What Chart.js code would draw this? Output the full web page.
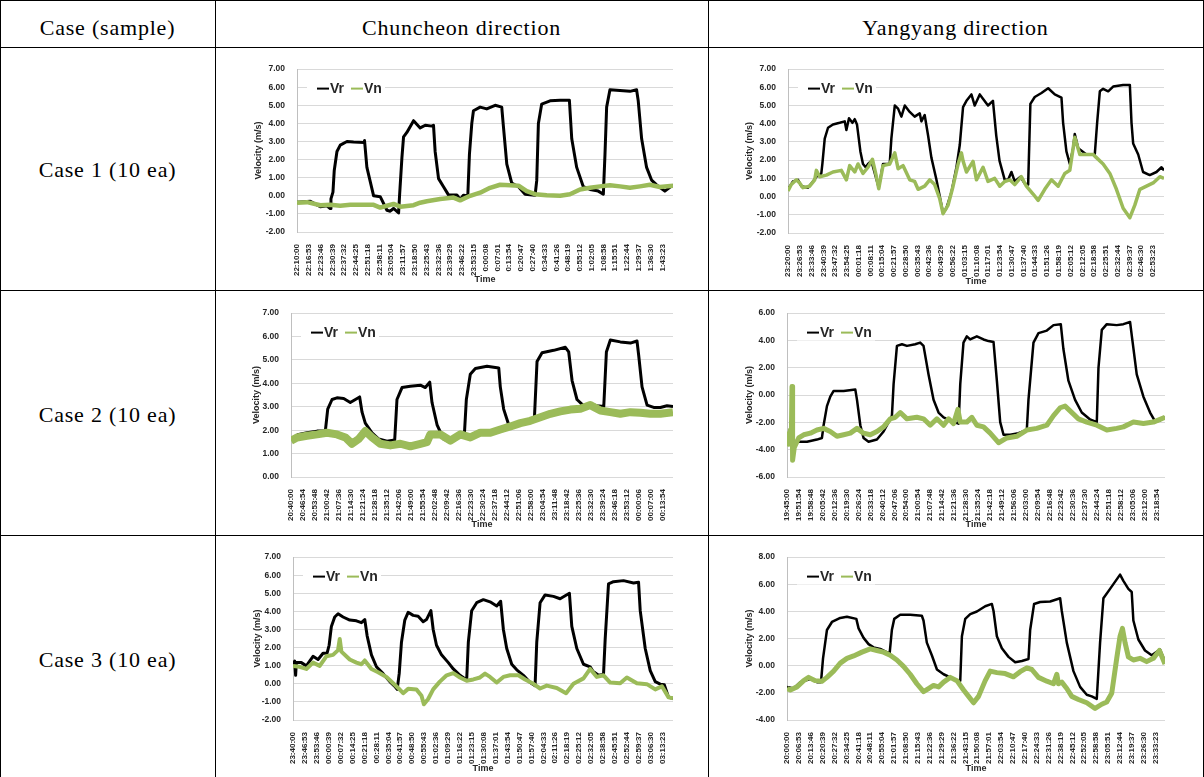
<!DOCTYPE html>
<html>
<head>
<meta charset="utf-8">
<script src="https://cdn.jsdelivr.net/npm/chart.js@4.4.0/dist/chart.umd.min.js"></script>
<style>
  body { margin: 0; background: #fff; overflow: hidden; }
  #page { position: relative; width: 1204px; height: 777px; font-family: "Liberation Serif", "Times New Roman", serif; }
  .hl { position: absolute; left: 0; width: 1204px; height: 1px; background: #000; }
  .vl { position: absolute; top: 0; height: 777px; width: 1px; background: #000; }
  .txt { position: absolute; text-align: center; font-size: 22px; line-height: 22px; letter-spacing: 0.8px; color: #000; white-space: nowrap; }
  canvas { position: absolute; }
</style>
</head>
<body>
<div id="page">
  <div class="hl" style="top:0"></div>
  <div class="hl" style="top:47px"></div>
  <div class="hl" style="top:290px"></div>
  <div class="hl" style="top:535px"></div>
  <div class="vl" style="left:0"></div>
  <div class="vl" style="left:215px"></div>
  <div class="vl" style="left:708px"></div>
  <div class="vl" style="left:1203px"></div>

  <div class="txt" style="left:0;width:215px;top:17px">Case (sample)</div>
  <div class="txt" style="left:215px;width:493px;top:17px">Chuncheon direction</div>
  <div class="txt" style="left:708px;width:495px;top:17px">Yangyang direction</div>
  <div class="txt" style="left:0;width:215px;top:159px">Case 1 (10 ea)</div>
  <div class="txt" style="left:0;width:215px;top:404px">Case 2 (10 ea)</div>
  <div class="txt" style="left:0;width:215px;top:649px">Case 3 (10 ea)</div>

  <canvas id="c1"></canvas>
  <canvas id="c2"></canvas>
  <canvas id="c3"></canvas>
  <canvas id="c4"></canvas>
  <canvas id="c5"></canvas>
  <canvas id="c6"></canvas>
</div>
<script>
// tick labels (one per x step)
const c1Labels = ['22:10:00','22:16:53','22:23:46','22:30:39','22:37:32','22:44:25','22:51:18','22:58:11','23:05:04','23:11:57','23:18:50','23:25:43','23:32:36','23:39:29','23:46:22','23:53:15','0:00:08','0:07:01','0:13:54','0:20:47','0:27:40','0:34:33','0:41:26','0:48:19','0:55:12','1:02:05','1:08:58','1:15:51','1:22:44','1:29:37','1:36:30','1:43:23'];
const c2Labels = ['23:20:00','23:26:53','23:33:46','23:40:39','23:47:32','23:54:25','00:01:18','00:08:11','00:15:04','00:21:57','00:28:50','00:35:43','00:42:36','00:49:29','00:56:22','01:03:15','01:10:08','01:17:01','01:23:54','01:30:47','01:37:40','01:44:33','01:51:26','01:58:19','02:05:12','02:12:05','02:18:58','02:25:51','02:32:44','02:39:37','02:46:30','02:53:23'];
const c3Labels = ['20:40:00','20:46:54','20:53:48','21:00:42','21:07:36','21:14:30','21:21:24','21:28:18','21:35:12','21:42:06','21:49:00','21:55:54','22:02:48','22:09:42','22:16:36','22:23:30','22:30:24','22:37:18','22:44:12','22:51:06','22:58:00','23:04:54','23:11:48','23:18:42','23:25:36','23:32:30','23:39:24','23:46:18','23:53:12','00:00:06','00:07:00','00:13:54'];
const c4Labels = ['19:45:00','19:51:54','19:58:48','20:05:42','20:12:36','20:19:30','20:26:24','20:33:18','20:40:12','20:47:06','20:54:00','21:00:54','21:07:48','21:14:42','21:21:36','21:28:30','21:35:24','21:42:18','21:49:12','21:56:06','22:03:00','22:09:54','22:16:48','22:23:42','22:30:36','22:37:30','22:44:24','22:51:18','22:58:12','23:05:06','23:12:00','23:18:54'];
const c5Labels = ['23:40:00','23:46:53','23:53:46','00:00:39','00:07:32','00:14:25','00:21:18','00:28:11','00:35:04','00:41:57','00:48:50','00:55:43','01:02:36','01:09:29','01:16:22','01:23:15','01:30:08','01:37:01','01:43:54','01:50:47','01:57:40','02:04:33','02:11:26','02:18:19','02:25:12','02:32:05','02:38:58','02:45:51','02:52:44','02:59:37','03:06:30','03:13:23'];
const c6Labels = ['20:00:00','20:06:53','20:13:46','20:20:39','20:27:32','20:34:25','20:41:18','20:48:11','20:55:04','21:01:57','21:08:50','21:15:43','21:22:36','21:29:29','21:36:22','21:43:15','21:50:08','21:57:01','22:03:54','22:10:47','22:17:40','22:24:33','22:31:26','22:38:19','22:45:12','22:52:05','22:58:58','23:05:51','23:12:44','23:19:37','23:26:30','23:33:23'];

// series: [position in tick steps, velocity m/s]
const c1Vr = [[0,-0.35],[1.13,-0.3],[1.69,-0.5],[1.98,-0.6],[2.54,-0.55],[2.82,-0.7],[2.88,-0.17],[3.05,0.2],[3.16,1.4],[3.39,2.45],[3.67,2.8],[4.24,3.0],[4.8,2.97],[5.71,2.94],[5.73,3.05],[5.93,1.57],[6.21,0.8],[6.5,0],[7.06,-0.05],[7.63,-0.8],[7.91,-0.85],[8.19,-0.7],[8.62,-0.95],[8.7,0],[8.9,2.1],[9.04,3.25],[9.32,3.5],[9.89,4.15],[10.45,3.75],[10.88,3.9],[11.44,3.85],[11.58,3.9],[11.72,2.45],[12.01,0.95],[12.43,0.5],[12.85,0.05],[13.56,0.05],[13.84,-0.2],[14.12,0.03],[14.49,0],[14.63,2.3],[14.83,4.0],[14.97,4.7],[15.54,4.9],[16.1,4.8],[16.81,5.0],[17.37,4.9],[17.51,3.85],[17.8,1.75],[18.22,0.7],[18.79,0.5],[19.35,0.09],[20.2,0.03],[20.34,0.85],[20.48,4.0],[20.76,5.07],[21.47,5.25],[22.32,5.28],[23.11,5.28],[23.31,3.15],[23.73,1.57],[24.29,0.5],[24.86,0.35],[25.56,0.26],[25.99,0.09],[26.13,2.3],[26.27,4.9],[26.55,5.86],[27.4,5.82],[28.25,5.77],[28.81,5.86],[28.95,5.25],[29.24,3.15],[29.66,1.57],[30.08,0.87],[30.51,0.6],[31.21,0.26],[31.9,0.6]];
const c1Vn = [[0,-0.38],[0.85,-0.35],[1.98,-0.52],[2.82,-0.5],[3.67,-0.55],[4.52,-0.5],[5.37,-0.5],[6.5,-0.5],[7.06,-0.65],[7.63,-0.55],[8.19,-0.45],[8.76,-0.6],[9.89,-0.52],[10.45,-0.38],[11.02,-0.3],[12.15,-0.18],[13.28,-0.1],[13.84,-0.25],[14.69,0],[15.54,0.17],[16.38,0.44],[17.23,0.61],[18.08,0.58],[18.79,0.56],[19.49,0.26],[20.2,0.09],[21.19,0.03],[22.32,0],[23.16,0.09],[24.01,0.35],[24.86,0.44],[25.71,0.52],[26.55,0.58],[27.4,0.52],[28.25,0.44],[29.1,0.52],[29.94,0.61],[30.79,0.49],[31.9,0.56]];

const c2Vr = [[0,0.4],[0.42,0.83],[0.85,0.92],[1.13,0.57],[1.7,0.49],[1.98,0.71],[2.41,1.09],[2.83,1.27],[2.92,1.79],[3.12,3.18],[3.4,3.78],[3.82,3.96],[4.39,4.05],[4.82,4.13],[4.96,3.66],[5.18,4.3],[5.47,4.05],[5.67,4.25],[5.86,3.96],[6.15,2.48],[6.37,1.79],[6.6,1.61],[6.8,1.79],[7.08,1.96],[7.71,0.49],[8.07,1.79],[8.64,1.79],[8.78,3.18],[9.07,5.0],[9.35,4.83],[9.63,4.39],[9.92,5.0],[10.34,4.65],[10.76,4.39],[11.19,4.57],[11.33,4.13],[11.61,4.48],[11.9,3.35],[12.18,2.14],[12.61,0.92],[13.17,-0.9],[13.46,-0.64],[13.88,0.23],[14.31,1.61],[14.59,2.83],[14.87,4.91],[15.16,5.26],[15.58,5.61],[15.86,5.0],[16.29,5.61],[16.99,5.0],[17.41,5.26],[17.69,3.35],[17.97,1.96],[18.41,0.92],[18.7,0.92],[18.98,1.35],[19.26,0.83],[19.75,1.09],[20.11,0.71],[20.4,0.66],[20.59,5.09],[20.96,5.47],[21.53,5.69],[22.1,5.95],[22.66,5.61],[23.23,5.43],[23.37,4.05],[23.65,2.48],[23.94,1.79],[24.22,2.66],[24.36,3.44],[24.65,2.66],[25.35,2.31],[26.06,2.31],[26.26,4.05],[26.49,5.78],[26.77,5.92],[27.2,5.78],[27.62,6.04],[28.47,6.13],[29.04,6.13],[29.18,4.05],[29.32,2.92],[29.75,2.31],[30.16,1.35],[30.73,1.18],[31.3,1.35],[31.73,1.61],[31.94,1.44]];
const c2Vn = [[0,0.31],[0.28,0.66],[0.71,0.92],[0.99,0.75],[1.27,0.49],[1.84,0.57],[2.27,0.92],[2.41,1.44],[2.69,1.09],[3.26,1.18],[3.82,1.35],[4.53,1.44],[4.96,0.92],[5.24,1.7],[5.67,1.35],[5.95,1.79],[6.37,1.27],[6.8,1.61],[7.17,2.05],[7.51,1.09],[7.71,0.43],[8.07,1.7],[8.64,1.79],[9.07,2.4],[9.35,1.53],[9.77,1.7],[10.34,0.92],[10.76,0.83],[11.05,0.4],[11.61,0.57],[12.04,0.92],[12.46,0.66],[12.89,-0.12],[13.17,-0.94],[13.6,-0.47],[14.02,0.57],[14.45,1.79],[14.73,2.4],[14.87,1.96],[15.16,1.35],[15.72,1.93],[16.01,0.92],[16.57,1.61],[16.99,0.83],[17.56,1.0],[17.99,0.57],[18.41,0.83],[18.84,0.92],[19.26,0.66],[19.83,1.09],[20.25,0.57],[20.82,0.14],[21.25,-0.21],[21.81,0.4],[22.38,0.92],[22.95,0.57],[23.51,1.27],[23.94,1.44],[24.36,3.26],[24.79,2.31],[25.35,2.31],[25.92,2.31],[26.2,2.14],[26.77,1.79],[27.34,1.27],[27.9,0.4],[28.47,-0.64],[29.04,-1.16],[29.46,-0.47],[29.89,0.4],[30.45,0.57],[31.02,0.75],[31.59,1.09],[31.94,1.0]];

const c3Vr = [[0,1.62],[0.64,1.82],[1.33,1.89],[2.17,1.96],[2.86,1.96],[3.06,2.9],[3.42,3.31],[3.83,3.38],[4.39,3.35],[4.94,3.18],[5.72,3.42],[5.92,2.77],[6.19,2.3],[6.75,1.89],[7.31,1.62],[8.0,1.53],[8.64,1.58],[8.83,3.31],[9.25,3.82],[9.94,3.88],[10.78,3.92],[11.19,3.82],[11.56,4.05],[11.75,3.18],[12.17,2.23],[12.72,1.62],[13.28,1.49],[14.11,1.72],[14.44,1.76],[14.61,3.31],[14.94,4.39],[15.36,4.63],[16.33,4.73],[17.31,4.66],[17.44,3.85],[17.72,2.9],[18.14,2.23],[18.42,2.12],[19.11,2.3],[19.81,2.36],[20.28,2.5],[20.5,4.93],[20.92,5.31],[21.89,5.41],[22.86,5.54],[23.14,5.34],[23.42,4.12],[23.83,3.31],[24.39,3.04],[24.94,3.11],[25.5,3.04],[26.06,3.01],[26.28,5.34],[26.61,5.85],[27.44,5.77],[28.28,5.72],[28.83,5.81],[28.97,5.2],[29.25,3.85],[29.67,3.07],[30.22,2.97],[30.78,2.97],[31.33,3.04],[31.83,3.01]];
const c3Vn = [[0,1.55],[0.5,1.69],[1.33,1.76],[2.17,1.82],[3.0,1.89],[3.83,1.82],[4.53,1.69],[5.08,1.42],[5.64,1.62],[6.19,1.96],[6.75,1.69],[7.44,1.42],[8.28,1.35],[9.11,1.42],[9.94,1.31],[10.78,1.42],[11.33,1.49],[11.61,1.82],[12.44,1.82],[13.28,1.55],[14.11,1.82],[14.94,1.69],[15.78,1.89],[16.61,1.89],[17.44,2.03],[18.28,2.16],[19.11,2.3],[19.94,2.4],[20.78,2.55],[21.61,2.7],[22.44,2.8],[23.28,2.88],[24.11,2.91],[24.94,3.07],[25.78,2.84],[26.61,2.77],[27.44,2.7],[28.28,2.77],[29.11,2.74],[29.94,2.7],[30.78,2.7],[31.83,2.77]];

const c4Vr = [[0,-3.6],[0.28,-3.37],[0.56,-3.6],[0.84,-3.42],[1.68,-3.42],[2.51,-3.26],[2.93,-3.14],[3.07,-2.21],[3.35,-0.81],[3.63,-0.12],[3.91,0.3],[4.75,0.3],[5.73,0.4],[5.87,-0.35],[6.15,-2.21],[6.42,-3.14],[6.84,-3.42],[7.54,-3.26],[8.1,-2.67],[8.52,-1.98],[8.8,-1.51],[8.94,0.81],[9.22,3.6],[9.64,3.72],[10.06,3.6],[10.75,3.72],[11.17,3.84],[11.45,3.6],[11.87,1.51],[12.29,-0.35],[12.71,-1.28],[13.13,-1.63],[13.97,-1.98],[14.39,-2.09],[14.53,0.81],[14.8,3.84],[15.08,4.3],[15.36,4.07],[15.92,4.3],[16.48,4.07],[16.9,3.95],[17.32,3.88],[17.6,1.05],[17.88,-1.98],[18.16,-2.91],[18.72,-2.91],[19.41,-2.79],[20.11,-2.56],[20.25,-0.35],[20.67,3.84],[21.09,4.53],[21.79,4.72],[22.35,5.12],[22.96,5.19],[23.18,3.37],[23.6,1.05],[24.16,-0.35],[24.72,-1.28],[25.42,-1.79],[25.98,-1.98],[26.12,1.98],[26.4,4.77],[26.82,5.19],[27.65,5.12],[28.21,5.19],[28.77,5.35],[28.99,3.84],[29.33,1.51],[29.89,-0.12],[30.45,-1.28],[30.87,-1.93],[31.28,-1.86],[31.7,-1.63]];
const c4Vn = [[0,-2.67],[0.14,-3.6],[0.28,-2.56],[0.36,-3.2],[0.42,0.63],[0.47,-4.77],[0.61,-3.84],[0.98,-3.14],[1.4,-2.91],[1.96,-2.79],[2.51,-2.56],[3.07,-2.44],[3.63,-2.67],[4.19,-3.02],[4.75,-2.91],[5.31,-2.79],[5.87,-2.44],[6.42,-2.79],[6.98,-2.91],[7.54,-2.67],[8.1,-2.33],[8.66,-1.74],[9.08,-1.63],[9.5,-1.28],[10.06,-1.74],[10.89,-1.63],[11.45,-1.74],[12.01,-2.21],[12.57,-1.74],[13.13,-2.21],[13.55,-1.74],[13.97,-2.09],[14.33,-1.05],[14.53,-1.98],[15.08,-1.98],[15.5,-1.63],[15.92,-2.21],[16.48,-2.33],[17.04,-2.79],[17.74,-3.49],[18.44,-3.14],[19.27,-3.02],[20.11,-2.56],[20.95,-2.44],[21.79,-2.21],[22.35,-1.51],[22.91,-0.93],[23.32,-0.81],[23.74,-1.16],[24.44,-1.74],[25.14,-1.98],[25.98,-2.21],[26.82,-2.56],[27.65,-2.44],[28.21,-2.33],[29.05,-1.98],[29.89,-2.09],[30.73,-1.98],[31.7,-1.63]];

const c5Vr = [[0,1.08],[0.14,1.25],[0.22,0.47],[0.28,1.17],[0.7,1.17],[1.12,0.99],[1.68,1.52],[2.1,1.34],[2.52,1.69],[2.86,1.69],[3.03,2.13],[3.22,3.17],[3.5,3.69],[3.78,3.87],[4.2,3.69],[4.76,3.52],[5.32,3.48],[5.74,3.38],[6.02,3.55],[6.22,2.65],[6.58,1.6],[7.0,0.94],[7.56,0.56],[8.12,0.12],[8.54,-0.14],[8.74,-0.31],[8.91,0.56],[9.1,2.3],[9.38,3.52],[9.66,3.95],[10.08,3.78],[10.5,3.73],[10.92,3.43],[11.2,3.55],[11.57,4.04],[11.76,3.0],[12.04,2.13],[12.46,1.6],[13.03,1.17],[13.45,0.82],[14.01,0.47],[14.57,0.21],[14.71,2.3],[14.99,4.04],[15.41,4.48],[15.97,4.65],[16.53,4.53],[17.09,4.3],[17.42,4.56],[17.65,3.0],[17.93,1.95],[18.35,1.08],[18.77,0.77],[19.33,0.47],[19.89,0.07],[20.31,-0.1],[20.45,2.3],[20.73,4.48],[21.15,4.91],[21.85,4.83],[22.41,4.7],[23.19,5.0],[23.39,3.17],[23.81,1.95],[24.37,1.08],[24.93,0.94],[25.15,0.7],[25.63,0.47],[26.05,0.52],[26.19,2.47],[26.47,5.52],[26.89,5.64],[27.73,5.7],[28.57,5.57],[28.99,5.61],[29.13,4.04],[29.55,1.95],[29.97,0.73],[30.39,0.12],[30.81,-0.02],[31.15,-0.05],[31.51,-0.75],[31.88,-0.8]];
const c5Vn = [[0,0.99],[0.56,0.94],[1.12,0.82],[1.68,1.17],[2.24,0.99],[2.8,1.52],[3.36,1.6],[3.78,1.86],[3.92,2.47],[4.06,1.78],[4.76,1.34],[5.32,1.17],[5.74,1.08],[6.02,1.29],[6.58,0.82],[7.14,0.64],[7.84,0.38],[8.4,0.03],[8.82,-0.23],[9.24,-0.52],[9.66,-0.28],[10.36,-0.31],[10.78,-0.66],[10.98,-1.13],[11.34,-0.84],[11.76,-0.31],[12.32,0.12],[12.89,0.47],[13.45,0.59],[14.01,0.35],[14.57,0.17],[15.13,0.24],[15.69,0.35],[16.11,0.56],[16.53,0.38],[17.09,0.07],[17.65,0.38],[18.21,0.47],[18.91,0.47],[19.47,0.24],[20.17,0],[20.73,-0.26],[21.29,-0.1],[22.13,-0.23],[22.91,-0.52],[23.53,0],[24.37,0.3],[24.93,0.82],[25.49,0.38],[26.05,0.47],[26.61,0.07],[27.45,0.03],[28.01,0.35],[28.85,0.03],[29.69,-0.02],[30.39,-0.31],[30.95,-0.14],[31.51,-0.75],[31.88,-0.8]];

const c6Vr = [[0,-1.56],[0.56,-1.68],[1.12,-1.21],[1.96,-0.98],[2.52,-1.21],[2.86,-1.21],[3.03,0.54],[3.36,2.63],[3.78,3.22],[4.48,3.52],[5.04,3.61],[5.83,3.45],[6.02,2.75],[6.44,2.05],[6.86,1.59],[7.28,1.35],[7.84,1.24],[8.63,0.89],[8.82,2.63],[9.02,3.45],[9.52,3.75],[10.36,3.75],[11.34,3.68],[11.48,3.33],[11.76,1.7],[12.18,0.77],[12.61,-0.28],[13.17,-0.63],[13.73,-0.86],[14.29,-1.1],[14.57,-1.1],[14.71,2.17],[14.99,3.45],[15.41,3.8],[15.97,3.99],[16.67,4.38],[17.23,4.55],[17.37,4.03],[17.65,2.17],[18.07,1.28],[18.63,0.65],[19.19,0.26],[19.75,0.35],[20.31,0.49],[20.45,2.63],[20.78,4.55],[21.29,4.69],[22.13,4.73],[22.97,4.97],[23.11,4.03],[23.53,1.7],[24.09,-0.4],[24.65,-1.56],[25.21,-2.14],[25.63,-2.26],[26.05,-2.45],[26.33,1.7],[26.61,4.97],[27.17,5.66],[27.73,6.36],[28.01,6.71],[28.29,6.25],[28.71,5.66],[28.99,5.43],[29.13,3.33],[29.55,1.93],[30.11,1.12],[30.67,0.77],[31.37,1.19],[31.79,0.3]];
const c6Vn = [[0,-1.68],[0.28,-1.79],[0.84,-1.56],[1.4,-1.1],[1.82,-0.86],[2.38,-1.1],[2.94,-1.14],[3.36,-0.86],[3.92,-0.4],[4.48,0.19],[5.04,0.54],[5.6,0.72],[6.3,1.0],[7.0,1.24],[7.56,1.12],[8.12,1.0],[8.68,0.77],[9.24,0.42],[9.8,-0.05],[10.36,-0.63],[10.92,-1.33],[11.48,-1.91],[11.9,-1.68],[12.32,-1.45],[12.75,-1.56],[13.17,-1.21],[13.73,-0.86],[14.29,-1.1],[14.85,-1.79],[15.27,-2.26],[15.69,-2.73],[16.11,-2.26],[16.67,-1.1],[17.09,-0.4],[17.65,-0.51],[18.35,-0.58],[19.05,-0.82],[19.61,-0.44],[20.17,-0.16],[20.59,-0.28],[21.15,-0.86],[21.85,-1.14],[22.41,-1.33],[22.69,-0.63],[22.83,-1.33],[23.11,-1.21],[23.53,-1.68],[23.95,-2.26],[24.51,-2.49],[25.21,-2.73],[25.91,-3.15],[26.47,-2.84],[26.89,-2.68],[27.31,-2.03],[27.73,0.54],[28.01,2.17],[28.21,2.75],[28.43,1.7],[28.71,0.65],[29.13,0.42],[29.69,0.54],[30.25,0.3],[30.81,0.54],[31.32,1.12],[31.79,0.12]];

const VR_COLOR = '#000000';
const VN_COLOR = '#9BBB59';
const TEXT_COLOR = '#262626';
const FONT = '"Liberation Sans", Arial, sans-serif';

const innerLegend = {
  id: 'innerLegend',
  afterDatasetsDraw(chart) {
    const { ctx, chartArea } = chart;
    const cy = chartArea.top + 19.5;
    const x0 = chartArea.left + 10;
    ctx.save();
    ctx.fillStyle = '#fff';
    ctx.fillRect(x0, cy - 8, 78, 16);
    ctx.font = 'bold 14px ' + FONT;
    ctx.textBaseline = 'middle';
    chart.data.datasets.forEach((ds, i) => {
      const sx = x0 + 10 + i * 34;
      ctx.strokeStyle = ds.borderColor;
      ctx.lineWidth = 2;
      ctx.beginPath();
      ctx.moveTo(sx, cy);
      ctx.lineTo(sx + 12, cy);
      ctx.stroke();
      ctx.fillStyle = TEXT_COLOR;
      ctx.fillText(ds.label, sx + 13, cy + 1);
    });
    ctx.restore();
  },
};

function toPoints(rows) {
  return rows.map(([x, y]) => ({ x, y }));
}

function makeChart(id, box, labels, vr, vn) {
  const canvas = document.getElementById(id);
  canvas.width = box.width;
  canvas.height = box.height;
  canvas.style.left = box.left + 'px';
  canvas.style.top = box.top + 'px';

  return new Chart(canvas, {
    type: 'line',
    data: {
      datasets: [
        {
          label: 'Vr',
          data: toPoints(vr),
          borderColor: VR_COLOR,
          borderWidth: box.vrWidth,
          pointRadius: 0,
          borderJoinStyle: 'round',
          order: 1,
        },
        {
          label: 'Vn',
          data: toPoints(vn),
          borderColor: VN_COLOR,
          borderWidth: box.vnWidth,
          pointRadius: 0,
          borderJoinStyle: 'round',
          order: 0,
        },
      ],
    },
    plugins: [innerLegend],
    options: {
      responsive: false,
      animation: false,
      devicePixelRatio: 1,
      layout: { padding: { top: 8, right: 8, left: 0, bottom: 0 } },
      plugins: { legend: { display: false }, tooltip: { enabled: false } },
      scales: {
        x: {
          type: 'linear',
          min: 0,
          max: box.xMax,
          afterBuildTicks: (scale) => {
            scale.ticks = labels.map((_, i) => ({ value: i }));
          },
          afterFit: (scale) => {
            scale.height = box.xH;
          },
          grid: { display: false },
          border: { display: false },
          ticks: {
            autoSkip: false,
            minRotation: 90,
            maxRotation: 90,
            padding: 4,
            color: TEXT_COLOR,
            font: { family: FONT, size: 8, weight: 'bold' },
            callback: (value) => labels[Math.round(value)],
          },
          title: {
            display: true,
            text: 'Time',
            color: TEXT_COLOR,
            font: { family: FONT, size: 9, weight: 'bold' },
            padding: { top: 0, bottom: 4 },
          },
        },
        y: {
          min: box.yMin,
          max: box.yMax,
          afterFit: (scale) => {
            scale.width = box.yW;
          },
          grid: { color: '#d9d9d9', drawTicks: false },
          border: { display: true, color: '#bfbfbf' },
          ticks: {
            stepSize: box.yStep,
            padding: 12,
            color: TEXT_COLOR,
            font: { family: FONT, size: 8.5, weight: 'bold' },
            callback: (value) => value.toFixed(2),
          },
          title: {
            display: true,
            text: 'Velocity (m/s)',
            color: TEXT_COLOR,
            font: { family: FONT, size: 9, weight: 'bold' },
            padding: { top: 4, bottom: 0 },
          },
        },
      },
    },
  });
}

makeChart('c1', { left: 249, top: 52, width: 432, height: 237, yW: 48, xH: 57, yMin: -2, yMax: 7, yStep: 1, xMax: 31.9, vrWidth: 3, vnWidth: 4.5 }, c1Labels, c1Vr, c1Vn);
makeChart('c2', { left: 740, top: 52, width: 432, height: 239, yW: 48, xH: 58, yMin: -2, yMax: 7, yStep: 1, xMax: 31.94, vrWidth: 2.5, vnWidth: 3.5 }, c2Labels, c2Vr, c2Vn);
makeChart('c3', { left: 247, top: 296, width: 434, height: 238, yW: 44, xH: 57, yMin: 0, yMax: 7, yStep: 1, xMax: 31.83, vrWidth: 3, vnWidth: 8 }, c3Labels, c3Vr, c3Vn);
makeChart('c4', { left: 740, top: 296, width: 433, height: 238, yW: 47, xH: 57, yMin: -6, yMax: 6, yStep: 2, xMax: 31.7, vrWidth: 2.5, vnWidth: 5 }, c4Labels, c4Vr, c4Vn);
makeChart('c5', { left: 248, top: 540, width: 433, height: 238, yW: 45, xH: 58, yMin: -2, yMax: 7, yStep: 1, xMax: 31.88, vrWidth: 3, vnWidth: 4 }, c5Labels, c5Vr, c5Vn);
makeChart('c6', { left: 740, top: 540, width: 433, height: 238, yW: 47, xH: 58, yMin: -4, yMax: 8, yStep: 2, xMax: 31.79, vrWidth: 2.5, vnWidth: 5 }, c6Labels, c6Vr, c6Vn);
</script>
</body>
</html>
